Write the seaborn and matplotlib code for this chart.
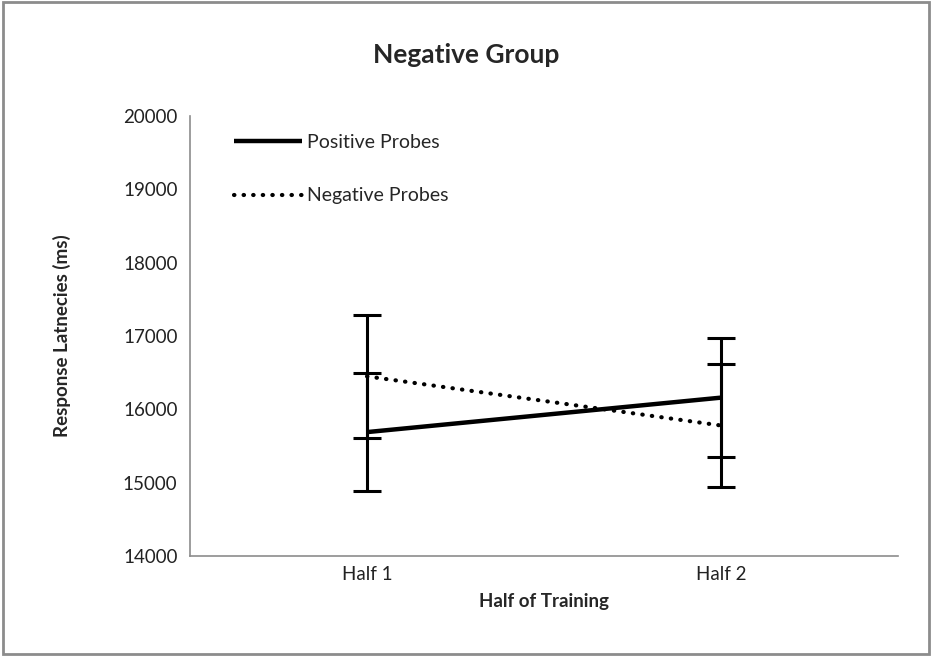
import matplotlib
matplotlib.use("Agg")
import matplotlib.pyplot as plt
from matplotlib.patches import Rectangle
from matplotlib.lines import Line2D
import seaborn as sns
import pandas as pd

# Data
halves = ["Half 1", "Half 2"]
positive_means = [15690, 16160]
positive_errors = [810, 810]
negative_means = [16450, 15780]
negative_errors = [840, 840]
series_names = ["Positive Probes", "Negative Probes"]
y_ticks = [14000, 15000, 16000, 17000, 18000, 19000, 20000]

df = pd.DataFrame({
    "half": halves * 2,
    "rt": positive_means + negative_means,
    "err": positive_errors + negative_errors,
    "probe": [series_names[0]] * 2 + [series_names[1]] * 2,
})

sns.set_theme(style="white")
plt.rcParams["font.family"] = ["Lato", "DejaVu Sans"]

fig = plt.figure(figsize=(9.32, 6.56), dpi=100)
ax = fig.add_axes([0.2039, 0.1524, 0.7596, 0.6707])

dot_style = (0, (0.1, 2.2))
sns.lineplot(
    data=df, x="half", y="rt", style="probe",
    dashes={series_names[0]: "", series_names[1]: (0.1, 2.2)},
    color="black", linewidth=3, ax=ax, legend=False,
    sort=False,
)
for line in ax.get_lines():
    line.set_solid_capstyle("butt")
    line.set_dash_capstyle("round")
ax.get_lines()[0].set_linewidth(3.2)
ax.get_lines()[1].set_linewidth(3.0)

for name in series_names:
    sub = df[df["probe"] == name]
    ax.errorbar(sub["half"], sub["rt"], yerr=sub["err"], fmt="none",
                ecolor="black", elinewidth=2.2, capsize=10, capthick=2.2)

ax.set_xlim(-0.5, 1.5)
ax.set_ylim(14000, 20000)
ax.set_yticks(y_ticks)
ax.set_yticklabels([str(v) for v in y_ticks], fontsize=13.5, color="#222222")
ax.set_xticks([0, 1])
ax.set_xticklabels(halves, fontsize=13.5, color="#222222")
ax.tick_params(axis="y", length=0, pad=9, left=False)
ax.tick_params(axis="x", length=0, pad=7.5)

for side in ["top", "right"]:
    ax.spines[side].set_visible(False)
for side in ["left", "bottom"]:
    ax.spines[side].set_color("#8c8c8c")
    ax.spines[side].set_linewidth(1.2)

ax.set_xlabel("Half of Training", fontsize=13.5, fontweight="bold", labelpad=7)
ax.set_ylabel("Response Latnecies (ms)", fontsize=13.5, fontweight="bold")
ax.yaxis.set_label_coords(-0.168, 0.5)

fig.text(0.5, 0.916, "Negative Group", ha="center", va="center",
         fontsize=19, fontweight="bold")

handles = [
    Line2D([], [], color="black", linewidth=3.2, solid_capstyle="butt"),
    Line2D([], [], color="black", linewidth=3.0, linestyle=dot_style,
           dash_capstyle="round"),
]
ax.legend(handles, series_names, loc="upper left",
          bbox_to_anchor=(0.037, 1.0), frameon=False, fontsize=14,
          handlelength=3.5, handletextpad=0.25, labelspacing=1.9)

fig.patches.append(Rectangle((0.003, 0.003), 0.994, 0.994, transform=fig.transFigure,
                             fill=False, edgecolor="#8c8c8c", linewidth=2))

fig.savefig("out.png", dpi=100)
